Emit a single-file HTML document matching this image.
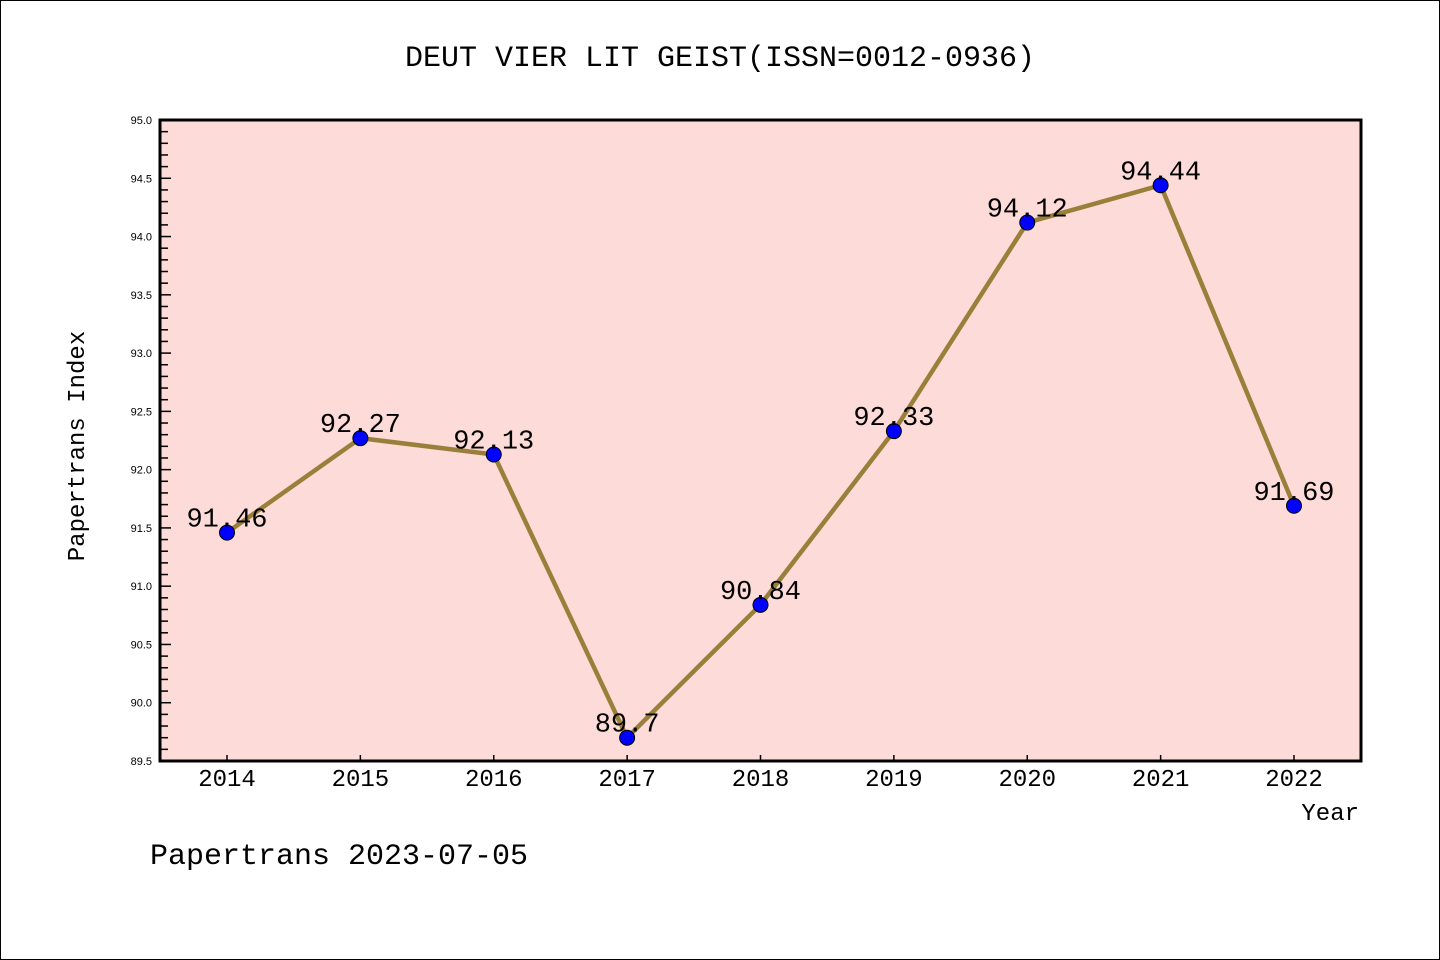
<!DOCTYPE html>
<html><head><meta charset="utf-8"><style>
body{margin:0;background:#fff}
svg{display:block;font-family:"Liberation Mono","WenQuanYi Zen Hei",monospace}
</style></head><body>
<svg width="1440" height="960" viewBox="0 0 1440 960">
<rect x="0.5" y="0.5" width="1439" height="959" fill="#fff" stroke="#000"/>
<text x="720" y="66" text-anchor="middle" font-size="30">DEUT VIER LIT GEIST(ISSN=0012-0936)</text>
<rect x="160" y="120" width="1201" height="641" fill="#fddbd8"/>
<g id="ticks"></g>
<g id="series"></g>
<rect x="160" y="120" width="1201" height="641" fill="none" stroke="#000" stroke-width="3"/>
<text x="84" y="446" transform="rotate(-90 84 446)" text-anchor="middle" font-size="24">Papertrans Index</text>
<text x="1359" y="820" text-anchor="end" font-size="24">Year</text>
<text x="150" y="864" font-size="30">Papertrans 2023-07-05</text>
</svg>
<script>
const years=["2014","2015","2016","2017","2018","2019","2020","2021","2022"];
const values=[91.46,92.27,92.13,89.7,90.84,92.33,94.12,94.44,91.69];
const valueLabels=["91.46","92.27","92.13","89.7","90.84","92.33","94.12","94.44","91.69"];
const yTicks=["89.5","90.0","90.5","91.0","91.5","92.0","92.5","93.0","93.5","94.0","94.5","95.0"];
const NS="http://www.w3.org/2000/svg";
const yMin=89.5,yMax=95.0,yTop=120,yBot=761;
const xs=i=>227+i*(1294-227)/(years.length-1);
const ys=v=>yBot-(v-yMin)/(yMax-yMin)*(yBot-yTop);
function mk(t,a,p){const e=document.createElementNS(NS,t);for(const k in a)e.setAttribute(k,a[k]);p.appendChild(e);return e;}
const tg=document.getElementById('ticks');
for(let k=0;k<=55;k++){
 const yy=ys(yMin+k*0.1),major=k%5===0;
 const l=mk('line',{x1:160,x2:160+(major?11:8),y1:yy,y2:yy,stroke:'#000','stroke-width':1.5},tg);
 
 
}
yTicks.forEach(s=>{
 const t=mk('text',{x:152,y:ys(parseFloat(s))+4,'text-anchor':'end','font-size':11,'font-family':'Liberation Sans, sans-serif'},tg);
 t.textContent=s;
 
 
});
years.forEach((yr,i)=>{
 const l=mk('line',{x1:xs(i),x2:xs(i),y1:yBot,y2:yBot-6,stroke:'#000','stroke-width':1.5},tg);
 
 
 const t=mk('text',{x:xs(i),y:786,'text-anchor':'middle','font-size':24},tg);
 t.textContent=yr;
 
 
});
const sg=document.getElementById('series');
const line=mk('polyline',{points:values.map((v,i)=>xs(i)+','+ys(v)).join(' '),fill:'none',stroke:'#9a7f3a','stroke-width':4.5,'stroke-linejoin':'round'},sg);


values.forEach((v,i)=>{
 const c=mk('circle',{cx:xs(i),cy:ys(v),r:7.5,fill:'#0000ff',stroke:'#000','stroke-width':1},sg);
 
 
 const t=mk('text',{x:xs(i),y:ys(v)-6,'text-anchor':'middle','font-size':27},sg);
 t.textContent=valueLabels[i];
 
 
});
</script>
</body></html>
